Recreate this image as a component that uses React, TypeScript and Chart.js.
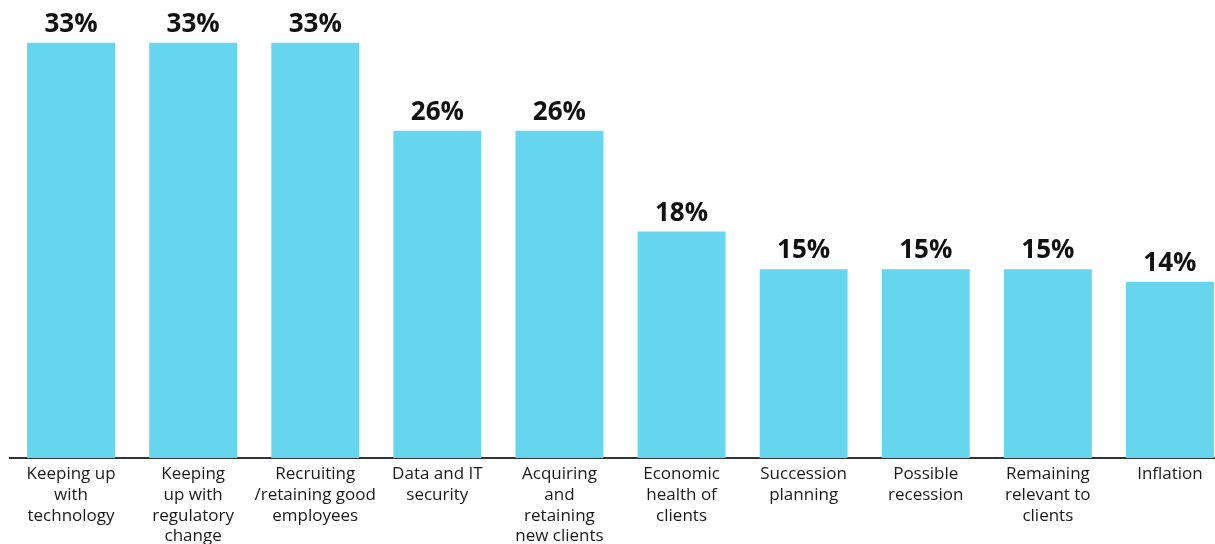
import React, { useEffect, useRef } from "react";
import { Chart, registerables } from "chart.js";

Chart.register(...registerables);

const categories: string[][] = [
  ["Keeping up", "with", "technology"],
  ["Keeping", "up with", "regulatory", "change"],
  ["Recruiting", "/retaining good", "employees"],
  ["Data and IT", "security"],
  ["Acquiring", "and", "retaining", "new clients"],
  ["Economic", "health of", "clients"],
  ["Succession", "planning"],
  ["Possible", "recession"],
  ["Remaining", "relevant to", "clients"],
  ["Inflation"],
];

const values: number[] = [33, 33, 33, 26, 26, 18, 15, 15, 15, 14];

const barColor = "#66D6EF";

const valueLabelPlugin = {
  id: "valueLabels",
  afterDatasetsDraw(chart: any) {
    const ctx = chart.ctx;
    const meta = chart.getDatasetMeta(0);
    ctx.save();
    ctx.font = "bold 26px 'Open Sans', sans-serif";
    ctx.fillStyle = "#111111";
    ctx.textAlign = "center";
    ctx.textBaseline = "alphabetic";
    meta.data.forEach((bar: any, i: number) => {
      ctx.fillText(values[i] + "%", bar.x, bar.y - 11);
    });
    ctx.restore();
  },
};

export default function App() {
  const canvasRef = useRef<HTMLCanvasElement | null>(null);

  useEffect(() => {
    if (!canvasRef.current) return;
    const chart = new Chart(canvasRef.current, {
      type: "bar",
      data: {
        labels: categories,
        datasets: [
          {
            data: values,
            backgroundColor: barColor,
            borderWidth: 0,
            barPercentage: 0.72,
            categoryPercentage: 1,
          },
        ],
      },
      options: {
        animation: false,
        responsive: false,
        maintainAspectRatio: false,
        layout: { padding: { left: 10, right: 9, top: 0, bottom: 0 } },
        plugins: {
          legend: { display: false },
          tooltip: { enabled: false },
        },
        scales: {
          x: {
            grid: { display: false, drawTicks: false },
            border: { display: true, color: "#333333", width: 2 },
            ticks: {
              color: "#1a1a1a",
              font: { family: "'Open Sans', sans-serif", size: 17, lineHeight: 1.22 },
              padding: 6,
              maxRotation: 0,
              autoSkip: false,
            },
            afterFit: (scale: any) => {
              scale.height = 86;
            },
          },
          y: {
            display: false,
            min: 0,
            max: 36.4,
          },
        },
      },
      plugins: [valueLabelPlugin],
    });
    return () => chart.destroy();
  }, []);

  return (
    <div style={{ position: "fixed", left: 0, top: 0, width: 1215, height: 544, overflow: "hidden", background: "#fff" }}>
      <canvas ref={canvasRef} width={1240} height={544} style={{ display: "block" }} />
    </div>
  );
}
